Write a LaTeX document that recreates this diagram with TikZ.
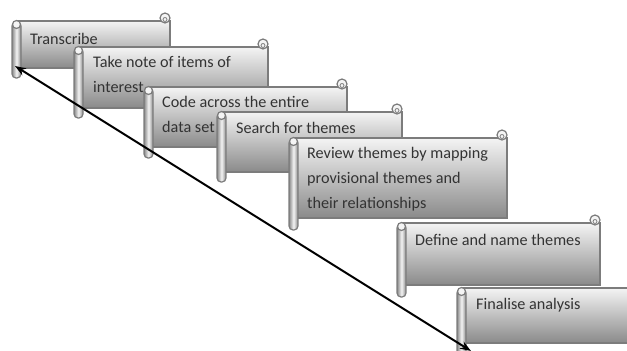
\documentclass[tikz,border=0pt]{standalone}
\usepackage{fontspec}
\setmainfont{Carlito}
\usetikzlibrary{arrows.meta}

\definecolor{scrollline}{HTML}{7C7C7C}
\definecolor{scrolllight}{HTML}{F4F4F4}
\definecolor{scrolldark}{HTML}{8A8A8A}
\definecolor{scrollink}{HTML}{333333}

\tikzset{
  scrollbody/.style={draw=scrollline, line width=1.2pt, top color=scrolllight, bottom color=scrolldark},
  scrollroll/.style={draw=scrollline, line width=1.2pt, left color=scrolldark, right color=scrolldark, middle color=scrolllight},
  scrollcurl/.style={draw=scrollline, line width=1.2pt, fill=scrolllight},
  steptext/.style={anchor=base west, align=left, inner sep=0pt, text=scrollink,
    font=\fontsize{16.2}{25}\selectfont},
}

% one scroll: left, top, right, bottom, bottom of the roll
\newcommand{\scrollbox}[5]{%
  \draw[scrollbody] (#1,#2) rectangle (#3,#4);
  % curl at the top right
  \draw[scrollcurl] (#3-5,#2-3) circle (5pt);
  \draw[scrollline, line width=0.8pt] (#3-5,#2-1.5) circle (2pt);
  % roll on the left
  \draw[scrollroll, rounded corners=4pt] (#1-6,#2+1) rectangle (#1+3,#5);
  \draw[scrollcurl] (#1-1.5,#2+3.5) circle (4pt);
}

\begin{document}
\begin{tikzpicture}[x=1pt, y=-1pt]
\useasboundingbox (0,0) rectangle (627,351);
\clip (0,0) rectangle (627,351);

% Transcribe
\scrollbox{18}{21}{170}{68}{78}
\node[steptext] (transcribe) at (30,44) {Transcribe};

% Take note (anchor on the last line)
\scrollbox{80}{47}{268}{108}{118}
\node[steptext] (takenote) at (93,92) {Take note of items of\\interest};

% Code
\scrollbox{150}{87}{347}{147}{158}
\node[steptext] (code) at (162,132) {Code across the entire\\data set};

% Search
\scrollbox{223}{112}{402}{172}{182}
\node[steptext] (search) at (236,133) {Search for themes};

% Review
\scrollbox{295}{138}{507}{218}{230}
\node[steptext] (review) at (307,208) {Review themes by mapping\\provisional themes and\\their relationships};

% Define
\scrollbox{403}{223}{600}{285}{297}
\node[steptext] (define) at (415,245) {Define and name themes};

% Finalise
\scrollbox{463}{288}{640}{343}{360}
\node[steptext] (finalise) at (476,309) {Finalise analysis};

% Double arrow
\coordinate (arrowtop) at (15,66);
\coordinate (arrowbottom) at (471,351);
\draw[{Stealth[length=11pt,width=8pt]}-{Stealth[length=11pt,width=8pt]}, line width=2pt] (arrowtop) -- (arrowbottom);

\end{tikzpicture}
\end{document}
